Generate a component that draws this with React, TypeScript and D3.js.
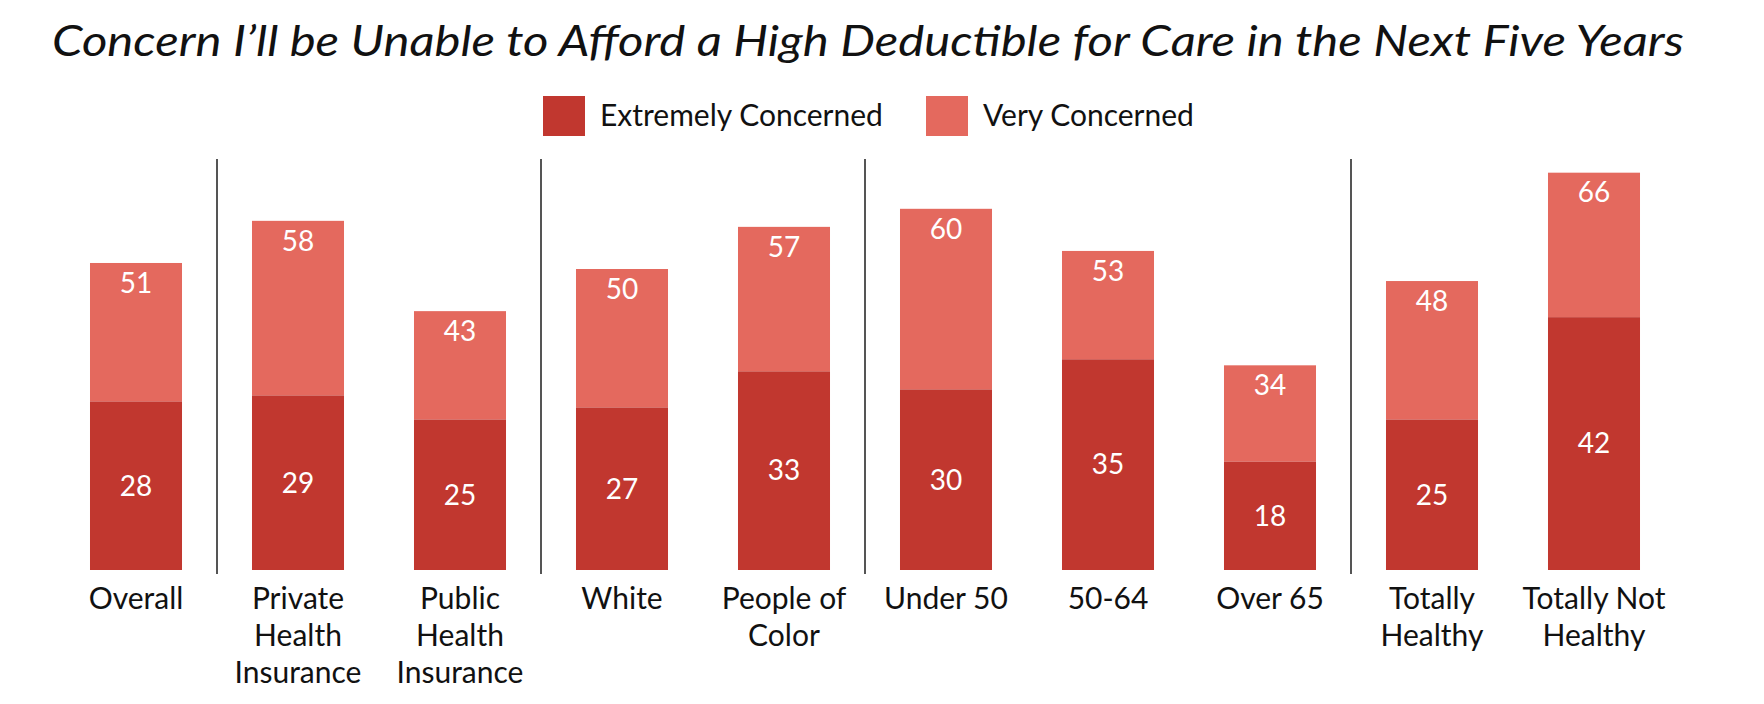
import React from 'react';
import * as d3 from 'd3';

const categories = [
  'Overall',
  'Private Health Insurance',
  'Public Health Insurance',
  'White',
  'People of Color',
  'Under 50',
  '50-64',
  'Over 65',
  'Totally Healthy',
  'Totally Not Healthy',
];

// label lines as they wrap in the original
const categoryLines = [
  ['Overall'],
  ['Private', 'Health', 'Insurance'],
  ['Public', 'Health', 'Insurance'],
  ['White'],
  ['People of', 'Color'],
  ['Under 50'],
  ['50-64'],
  ['Over 65'],
  ['Totally', 'Healthy'],
  ['Totally Not', 'Healthy'],
];

const extremelyConcerned = [28, 29, 25, 27, 33, 30, 35, 18, 25, 42];
// extremely + very concerned (the number printed at the top of each bar)
const totalConcerned = [51, 58, 43, 50, 57, 60, 53, 34, 48, 66];

// a divider line is drawn after these categories
const groupEnds = ['Overall', 'Public Health Insurance', 'People of Color', 'Over 65'];

const seriesNames = ['Extremely Concerned', 'Very Concerned'];
const colors = ['#C1372F', '#E4695E'];

const W = 1764;
const H = 704;
const FONT = 'Lato, "Noto Sans", sans-serif';

export default function App() {
  const x = d3
    .scaleBand<string>()
    .domain(categories)
    .range([55, 1675])
    .paddingInner(0.432)
    .paddingOuter(0.216);

  const y = d3.scaleLinear().domain([0, 70]).range([570, 148.6]);

  const bw = x.bandwidth();
  const gap = x.step() - bw;

  return (
    <svg width={W} height={H} style={{ display: 'block', margin: -8, background: '#fff' }}>
      <text
        x={52}
        y={56}
        fontFamily={FONT}
        fontStyle="italic"
        fontSize={42}
        textLength={1632}
        lengthAdjust="spacingAndGlyphs"
        fill="#111"
      >
        Concern I’ll be Unable to Afford a High Deductible for Care in the Next Five Years
      </text>

      {/* legend */}
      <g>
        {seriesNames.map((name, i) => {
          const lx = i === 0 ? 543 : 926;
          return (
            <g key={name} transform={`translate(${lx},96)`}>
              <rect width={42} height={40} fill={colors[i]} />
              <text x={57} y={30} fontFamily={FONT} fontSize={30} fill="#111">
                {name}
              </text>
            </g>
          );
        })}
      </g>

      {/* bars */}
      {categories.map((c, i) => {
        const x0 = x(c)!;
        const ext = extremelyConcerned[i];
        const tot = totalConcerned[i];
        return (
          <g key={c}>
            <rect x={x0} y={y(tot)} width={bw} height={y(ext) - y(tot)} fill={colors[1]} />
            <rect x={x0} y={y(ext)} width={bw} height={y(0) - y(ext)} fill={colors[0]} />
            <text
              x={x0 + bw / 2}
              y={y(tot) + 20}
              dy="0.35em"
              textAnchor="middle"
              fontFamily={FONT}
              fontSize={28}
              fill="#fff"
            >
              {tot}
            </text>
            <text
              x={x0 + bw / 2}
              y={(y(ext) + y(0)) / 2}
              dy="0.35em"
              textAnchor="middle"
              fontFamily={FONT}
              fontSize={28}
              fill="#fff"
            >
              {ext}
            </text>
            <text textAnchor="middle" fontFamily={FONT} fontSize={30} fill="#111">
              {categoryLines[i].map((line, k) => (
                <tspan key={k} x={x0 + bw / 2} y={609 + k * 37}>
                  {line}
                </tspan>
              ))}
            </text>
          </g>
        );
      })}

      {/* group dividers */}
      {groupEnds.map((c) => {
        const sx = x(c)! + bw + gap / 2;
        return <line key={c} x1={sx} x2={sx} y1={159} y2={574} stroke="#555" strokeWidth={2} />;
      })}
    </svg>
  );
}
